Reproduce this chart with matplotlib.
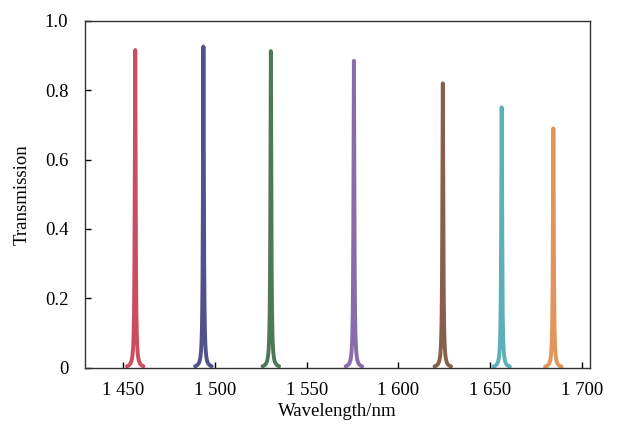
import matplotlib
import matplotlib.pyplot as plt
import numpy as np

matplotlib.use("Agg")

# resonance peaks
centers = [1456.4, 1493.6, 1530.4, 1575.7, 1624.2, 1656.3, 1684.5]
peaks = [0.916, 0.926, 0.913, 0.885, 0.820, 0.751, 0.690]
half_widths = [0.3, 0.3, 0.3, 0.3, 0.3, 0.3, 0.3]
colors = ["#c8394f", "#3d3f82", "#3a6a47", "#7a5ea2", "#7a4e36", "#4aa9b2", "#df8a48"]

x_ticks = [1450, 1500, 1550, 1600, 1650, 1700]
x_tick_labels = ["1 450", "1 500", "1 550", "1 600", "1 650", "1 700"]
y_ticks = [0, 0.2, 0.4, 0.6, 0.8, 1.0]
y_tick_labels = ["0", "0.2", "0.4", "0.6", "0.8", "1.0"]

plt.rcParams["font.family"] = ["Liberation Serif", "DejaVu Serif"]
plt.rcParams["font.size"] = 13.5

fig = plt.figure(figsize=(6.18, 4.32), dpi=100)
ax = fig.add_axes([0.1375, 0.149, 0.8172, 0.8025])

for c, p, w, col in zip(centers, peaks, half_widths, colors):
    wl = np.linspace(c - 4.5, c + 4.5, 1801)
    t = p * w ** 2 / ((wl - c) ** 2 + w ** 2)
    ax.plot(wl, t, color=col, lw=2.8, alpha=0.9, solid_capstyle="round")

ax.set_xlim(1429, 1704.5)
ax.set_ylim(0, 1.0)
ax.set_xticks(x_ticks)
ax.set_xticklabels(x_tick_labels)
ax.set_yticks(y_ticks)
ax.set_yticklabels(y_tick_labels)
ax.tick_params(direction="in", length=4, width=1)
ax.tick_params(axis="x", pad=10)
ax.tick_params(axis="y", pad=12)
for side in ax.spines.values():
    side.set_color("#333333")
    side.set_linewidth(1.0)

ax.set_xlabel("Wavelength/nm", labelpad=3)
ax.set_ylabel("Transmission", labelpad=10)

plt.savefig("out.png", dpi=100)
